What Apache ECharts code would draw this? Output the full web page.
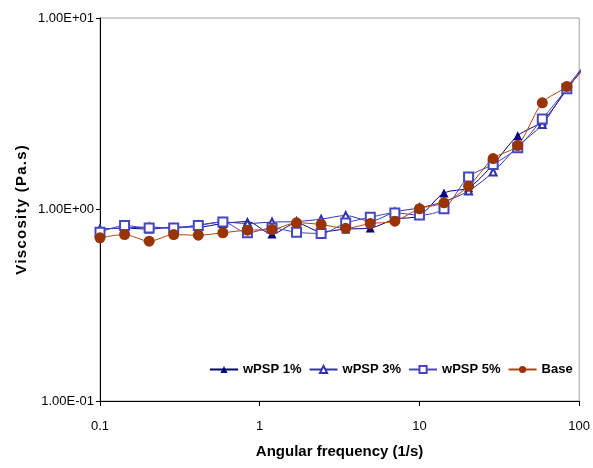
<!DOCTYPE html>
<html>
<head>
<meta charset="utf-8">
<script src="https://cdn.jsdelivr.net/npm/echarts@6/dist/echarts.min.js"></script>
<style>
html,body{margin:0;padding:0;background:#fff;}
#chart{width:593px;height:468px;}
</style>
</head>
<body>
<div id="chart"></div>
<script>
// Angular frequency (1/s); last entry is where the visible lines end past the axis
const freq = [0.1, 0.1425, 0.2031, 0.2894, 0.4125, 0.5878, 0.8377, 1.194, 1.701, 2.424,
              3.455, 4.924, 7.017, 10.0, 14.25, 20.31, 28.94, 41.25, 58.78, 83.77, 109];
const wpsp1 = [0.79, 0.80, 0.79, 0.81, 0.81, 0.845, 0.865, 0.745, 0.85, 0.765,
               0.79, 0.80, 0.89, 0.93, 1.22, 1.30, 1.72, 2.43, 2.89, 4.23, 5.7];
const wpsp3 = [0.79, 0.80, 0.81, 0.80, 0.83, 0.86, 0.845, 0.86, 0.865, 0.89,
               0.93, 0.87, 0.97, 1.02, 1.10, 1.25, 1.57, 2.14, 2.78, 4.33, 5.75];
const wpsp5 = [0.76, 0.825, 0.80, 0.80, 0.825, 0.86, 0.756, 0.80, 0.76, 0.75,
               0.85, 0.91, 0.96, 0.935, 1.01, 1.48, 1.72, 2.10, 2.97, 4.27, 5.6];
const base  = [0.711, 0.740, 0.683, 0.740, 0.734, 0.756, 0.780, 0.786, 0.852, 0.835,
               0.798, 0.845, 0.869, 1.009, 1.084, 1.323, 1.846, 2.159, 3.607, 4.388, 5.5];
const seriesNames = ['wPSP 1%', 'wPSP 3%', 'wPSP 5%', 'Base'];
const xTickLabels = {0.1: '0.1', 1: '1', 10: '10', 100: '100'};
const yTickLabels = {0.1: '1.00E-01', 1: '1.00E+00', 10: '1.00E+01'};
const xTitle = 'Angular frequency (1/s)';
const yTitle = 'Viscosity (Pa.s)';

function pairs(ys) {
  return ys.map(function (y, i) {
    const item = {value: [freq[i], y]};
    if (i === ys.length - 1) item.symbolSize = 0;
    return item;
  });
}
function lbl(map, v) {
  const keys = Object.keys(map);
  for (const k of keys) { if (Math.abs(Math.log10(v) - Math.log10(+k)) < 1e-6) return map[k]; }
  return '';
}

const chart = echarts.init(document.getElementById('chart'), null, {renderer: 'canvas'});
const font = 'Arial, "Liberation Sans", sans-serif';
const spacedTitle = yTitle.split('').join('\u200A');

chart.setOption({
  backgroundColor: '#ffffff',
  animation: false,
  grid: {left: 100, right: 13, top: 18, bottom: 67, show: true, borderColor: '#a0a0a0', borderWidth: 1, backgroundColor: 'transparent'},
  xAxis: {
    type: 'log', logBase: 10, min: 0.1, max: 100,
    axisLine: {show: true, onZero: false, lineStyle: {color: '#000', width: 1}},
    axisTick: {show: true, inside: false, length: 5, lineStyle: {color: '#000'}},
    minorTick: {show: false},
    splitLine: {show: false},
    axisLabel: {color: '#000', fontSize: 13, fontFamily: font, margin: 19, formatter: function (v) { return lbl(xTickLabels, v); }},
    name: xTitle, nameLocation: 'middle', nameGap: 43,
    nameTextStyle: {color: '#000', fontSize: 15, fontWeight: 'bold', fontFamily: font}
  },
  yAxis: {
    type: 'log', logBase: 10, min: 0.1, max: 10,
    axisLine: {show: true, onZero: false, lineStyle: {color: '#000', width: 1}},
    axisTick: {show: true, inside: false, length: 4, lineStyle: {color: '#000'}},
    minorTick: {show: false},
    splitLine: {show: false},
    axisLabel: {color: '#000', fontSize: 13, fontFamily: font, margin: 6, formatter: function (v) { return lbl(yTickLabels, v); }}
  },
  legend: {
    left: 204, top: 358, itemWidth: 28, itemHeight: 9, itemGap: 7,
    textStyle: {color: '#000', fontSize: 13, fontWeight: 'bold', fontFamily: font},
    data: seriesNames
  },
  graphic: [{
    type: 'text', x: 22, y: 210, rotation: Math.PI / 2,
    style: {text: spacedTitle, fill: '#000', font: 'bold 15px ' + font, textAlign: 'center', textVerticalAlign: 'middle'}
  }],
  series: [
    {name: seriesNames[0], type: 'line', smooth: 0.3, clip: false, symbol: 'triangle', symbolSize: 9,
     itemStyle: {color: '#000080'}, lineStyle: {color: '#000080', width: 1}, data: pairs(wpsp1)},
    {name: seriesNames[1], type: 'line', smooth: 0.3, clip: false, symbol: 'emptyTriangle', symbolSize: 7,
     itemStyle: {color: '#3333aa', borderWidth: 1}, lineStyle: {color: '#3333aa', width: 1}, data: pairs(wpsp3)},
    {name: seriesNames[2], type: 'line', smooth: 0.3, clip: false, symbol: 'emptyRect', symbolSize: 9,
     itemStyle: {color: '#4646bf', borderWidth: 1}, lineStyle: {color: '#4646bf', width: 1}, data: pairs(wpsp5)},
    {name: seriesNames[3], type: 'line', smooth: 0.3, clip: false, symbol: 'circle', symbolSize: 11,
     itemStyle: {color: '#993300'}, lineStyle: {color: '#b0450f', width: 1}, data: pairs(base)}
  ]
});
</script>
</body>
</html>
